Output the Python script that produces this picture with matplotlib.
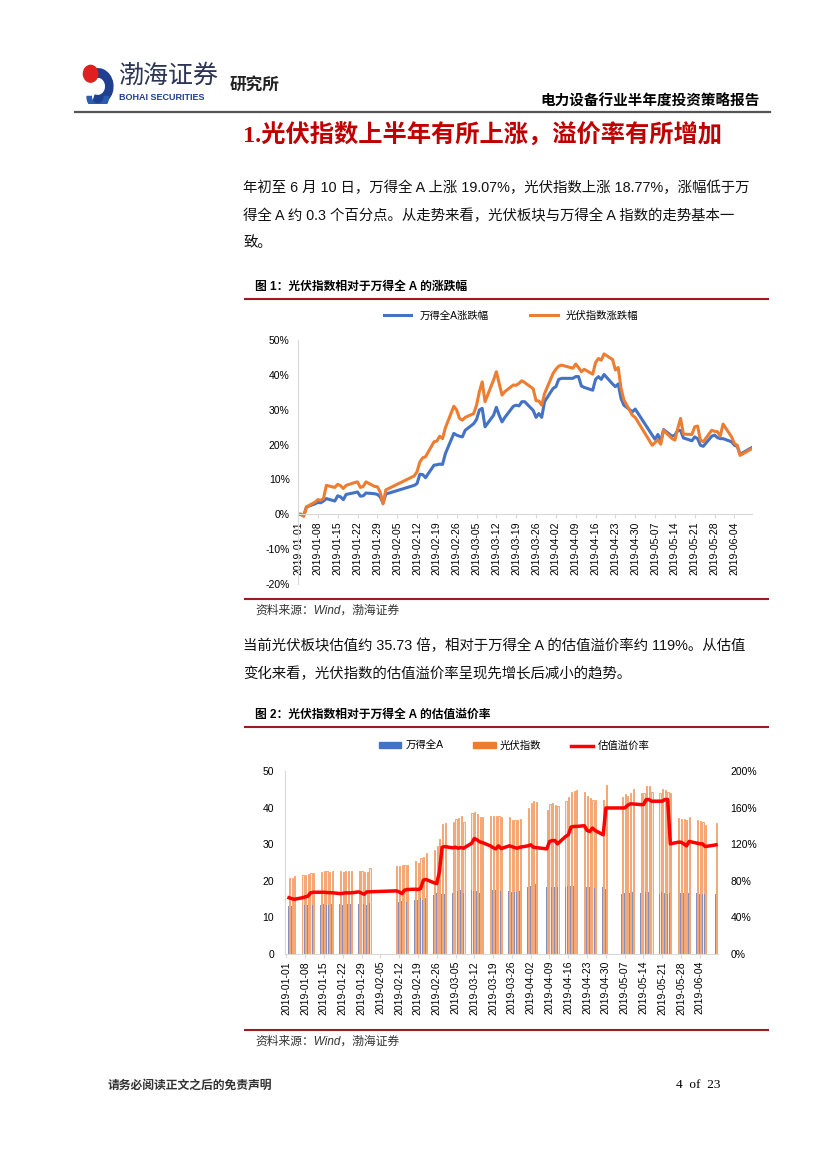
import matplotlib
matplotlib.use("Agg")
import matplotlib.pyplot as plt
import matplotlib.dates as mdates
from matplotlib.patches import Patch, Circle, Wedge
from matplotlib.lines import Line2D
import numpy as np
import pandas as pd

plt.rcParams['font.family'] = ['Liberation Sans', 'Noto Sans CJK SC', 'DejaVu Sans']
plt.rcParams['axes.unicode_minus'] = False

# trading days 2019-01-02 .. 2019-06-10 (holidays removed)
holidays = ['2019-02-04', '2019-02-05', '2019-02-06', '2019-02-07', '2019-02-08',
            '2019-04-05', '2019-05-01', '2019-05-02', '2019-05-03', '2019-06-07']
days = pd.bdate_range('2019-01-02', '2019-06-10')
days = days[~days.isin(pd.to_datetime(holidays))]

# fig 1: cumulative change (%)
wind_chg = [-0.1, -0.4, 2.1, 3.0, 3.4, 3.3, 3.8, 4.5, 3.8, 5.3, 5.0, 4.2, 5.7, 6.2, 6.4, 5.2, 5.3, 6.1, 5.9, 5.7, 5.0, 3.2,
            5.8, 8.3, 8.8, 11.5, 11.4, 10.5, 14.1, 14.2, 14.4, 14.3, 17.4, 23.2, 22.7, 22.4, 22.2,
            24.1, 26.0, 27.2, 29.9, 30.4, 25.1, 28.4, 30.7, 28.4, 26.5, 27.8, 31.0, 31.3, 31.1, 32.3, 32.3, 29.8, 27.8, 28.9, 27.8, 32.3,
            36.1, 36.6, 38.7, 39.0, 39.0, 39.5, 39.5, 36.8, 36.4, 35.6, 38.7, 39.5, 38.7, 40.1, 37.4, 36.6, 37.4, 33.2, 31.3, 29.4, 30.2,
            22.7, 21.5, 22.9, 20.8, 24.3, 22.4, 22.7, 24.1, 24.0, 21.9, 21.1, 22.2, 21.7, 19.8, 19.5, 22.4, 22.7, 22.0, 21.7, 21.7,
            20.8, 19.8, 19.5, 17.2, 19.07]
pv_chg = [0.1, -0.6, 2.1, 3.5, 4.2, 4.0, 4.5, 8.3, 7.7, 8.6, 8.2, 7.4, 8.3, 9.1, 9.3, 7.7, 8.0, 9.3, 8.0, 7.9, 6.4, 3.0,
          7.0, 11.0, 12.2, 15.0, 16.2, 16.5, 20.8, 21.0, 22.4, 21.7, 24.8, 31.0, 29.9, 27.5, 27.0,
          27.8, 28.9, 31.3, 35.2, 38.0, 32.3, 38.5, 40.9, 37.5, 34.2, 35.2, 37.1, 37.0, 37.6, 38.3, 37.8, 36.0, 32.6, 32.5, 31.3, 34.6,
          40.4, 41.6, 42.5, 42.8, 41.9, 43.1, 42.1, 40.9, 41.6, 40.2, 43.5, 44.7, 44.2, 46.0, 44.4, 41.4, 42.1, 36.1, 32.8, 28.4, 27.8,
          19.8, 20.6, 21.3, 20.1, 24.1, 21.7, 21.3, 24.6, 27.5, 23.0, 22.9, 25.1, 25.3, 21.3, 20.8, 24.1, 23.8, 23.7, 22.4, 25.9,
          22.2, 20.3, 19.8, 16.9, 18.77]

# fig 2: PE and premium
wind_pe = [13.0, 13.0, 13.3, 13.4, 13.4, 13.4, 13.3, 13.3, 13.4, 13.6, 13.5, 13.5, 13.6, 13.7, 13.5, 13.7, 13.7, 13.7, 13.6, 13.7, 13.6, 13.3,
           13.9, 14.2, 14.3, 14.6, 14.4, 14.3, 14.8, 14.7, 15.3, 14.7, 15.2, 16.0, 16.6, 16.6, 16.4,
           16.5, 16.8, 17.1, 17.3, 17.4, 16.7, 17.4, 17.2, 17.1, 16.8, 16.9, 17.3, 17.4, 17.5, 17.2, 17.2, 17.2, 16.9, 16.9, 17.0, 17.1,
           18.3, 18.7, 19.2, 19.2, 18.3, 18.6, 18.4, 18.2, 18.3, 18.3, 18.6, 18.6, 18.6, 18.7, 18.4, 18.4, 18.2, 17.7, 17.9, 18.2, 17.8,
           16.5, 16.8, 16.4, 16.6, 17.0, 16.8, 16.8, 17.0, 17.0, 16.6, 16.5, 16.9, 16.6, 16.4, 16.6, 16.6, 16.7, 16.8, 16.8, 16.7,
           16.6, 16.5, 16.4, 16.3, 16.3]
pv_pe = [20.9, 20.7, 21.3, 21.6, 21.7, 21.8, 22.2, 22.2, 22.4, 22.7, 22.6, 22.5, 22.7, 22.8, 22.5, 22.8, 22.8, 22.8, 22.8, 22.8, 22.5, 22.3,
         23.4, 24.0, 24.0, 24.2, 24.4, 24.4, 25.3, 25.0, 26.2, 26.6, 27.5, 28.5, 29.5, 31.5, 35.6,
         35.9, 36.2, 37.0, 37.2, 37.6, 36.0, 38.4, 38.8, 38.3, 37.3, 37.5, 37.8, 37.7, 37.6, 37.6, 37.5, 37.5, 36.6, 36.6, 36.6, 37.0,
         39.9, 41.3, 41.7, 41.6, 39.4, 41.1, 41.3, 40.8, 40.4, 41.7, 42.9, 44.3, 44.5, 44.8, 44.3, 43.3, 42.7, 42.0, 42.2, 42.0, 46.3,
         42.9, 43.6, 43.1, 43.9, 45.0, 44.0, 44.0, 45.9, 45.9, 44.3, 44.0, 45.0, 44.8, 44.2, 43.9, 37.2, 37.0, 36.9, 36.7, 37.4,
         36.7, 36.4, 36.0, 35.3, 35.73]
premium = [61.5, 60.5, 59.8, 61.5, 62.4, 63.1, 66.8, 67.5, 67.5, 67.5, 67.2, 67.0, 67.0, 66.0, 66.3, 66.8, 66.8, 66.8, 67.9, 66.5, 65.3, 67.9,
           68.0, 69.0, 67.9, 66.0, 69.7, 70.5, 70.8, 70.5, 71.5, 80.7, 81.5, 77.8, 77.0, 89.9, 116.7,
           117.4, 116.0, 116.7, 115.6, 116.3, 115.6, 121.0, 126.2, 124.8, 122.6, 121.8, 118.2, 116.3, 114.9, 118.2, 115.2, 118.2, 117.4, 116.3, 115.6, 116.7,
           118.2, 119.3, 116.7, 116.3, 114.9, 122.9, 124.0, 124.0, 120.4, 128.4, 130.3, 138.7, 139.4, 139.4, 140.2, 135.0, 134.0, 137.6, 135.0, 130.3, 159.6,
           159.6, 159.6, 162.2, 164.0, 164.0, 163.3, 163.3, 168.8, 168.8, 167.0, 167.0, 167.0, 168.8, 168.8, 120.4, 122.2, 122.2, 120.4, 118.2, 123.0,
           121.1, 120.4, 120.4, 117.4, 119.3]

BLUE = '#4472C4'
ORANGE = '#ED7D31'
DARKRED = '#9E1B1E'
W, H = 827, 1169


def fx(x):
    return x / W


def fy(y):
    return 1 - y / H


fig = plt.figure(figsize=(8.27, 11.69), dpi=100)

# ---- header ----
lax = fig.add_axes([fx(78), fy(104), fx(36), 42 / H])
lax.set_xlim(0, 1)
lax.set_ylim(0, 1)
lax.axis('off')
lax.add_patch(Wedge((0.55, 0.42), 0.42, -110, 130, width=0.2, color='#1f3f8f'))
lax.add_patch(Wedge((0.55, 0.18), 0.3, 180, 360, width=0.12, color='#2a5db0'))
lax.add_patch(Circle((0.35, 0.72), 0.2, color='#e02020'))

fig.text(fx(118), fy(76), '渤海证券', fontsize=18, color='#2c3553', va='center',
         family=['Noto Sans CJK SC'])
fig.text(fx(119), fy(97), 'BOHAI SECURITIES', fontsize=6.5, color='#1f3f8f', va='center',
         weight='bold')
fig.text(fx(230), fy(85), '研究所', fontsize=12, color='#222222', va='center', weight='bold',
         family=['Noto Sans CJK SC'])
fig.text(fx(760), fy(101), '电力设备行业半年度投资策略报告', fontsize=10.5, weight='bold',
         ha='right', va='center', family=['Noto Sans CJK SC'])
fig.add_artist(Line2D([fx(75), fx(770)], [fy(112), fy(112)], color='#555555', lw=1.6))

fig.text(fx(243), fy(136), '1.光伏指数上半年有所上涨，溢价率有所增加', fontsize=17.5, weight='bold',
         color='#C00000', va='center', family=['Liberation Serif', 'Noto Sans CJK SC'])

body = dict(fontsize=10.4, va='center', color='#111111')
fig.text(fx(243), fy(188), '年初至 6 月 10 日，万得全 A 上涨 19.07%，光伏指数上涨 18.77%，涨幅低于万', **body)
fig.text(fx(243), fy(216), '得全 A 约 0.3 个百分点。从走势来看，光伏板块与万得全 A 指数的走势基本一', **body)
fig.text(fx(243), fy(243), '致。', **body)

fig.text(fx(255), fy(287), '图 1：光伏指数相对于万得全 A 的涨跌幅', fontsize=8.5, weight='bold', va='center')
fig.add_artist(Line2D([fx(245), fx(768)], [fy(299), fy(299)], color=DARKRED, lw=1.5))

# ---- chart 1 ----
d1 = [pd.Timestamp('2019-01-01')] + list(days)
ax1 = fig.add_axes([fx(298), fy(584), fx(752) - fx(298), (584 - 340) / H])
ax1.plot(d1, [0] + wind_chg, color=BLUE, lw=2.2, label='万得全A涨跌幅')
ax1.plot(d1, [0] + pv_chg, color=ORANGE, lw=2.2, label='光伏指数涨跌幅')
ax1.set_ylim(-20, 50)
ax1.set_yticks(range(-20, 51, 10))
ax1.yaxis.set_major_formatter(matplotlib.ticker.FuncFormatter(lambda v, p: '%d%%' % v))
ax1.set_xlim(pd.Timestamp('2019-01-01'), pd.Timestamp('2019-06-10 05:00'))
ticks = pd.date_range('2019-01-01', '2019-06-04', freq='7D')
ax1.set_xticks(ticks)
ax1.xaxis.set_major_formatter(mdates.DateFormatter('%Y-%m-%d'))
ax1.spines['bottom'].set_position(('data', 0))
for s in ['top', 'right']:
    ax1.spines[s].set_visible(False)
ax1.spines['left'].set_color('#d9d9d9')
ax1.spines['bottom'].set_color('#d9d9d9')
ax1.tick_params(axis='x', rotation=90, labelsize=7.5, length=3, color='#d9d9d9', pad=2)
ax1.tick_params(axis='y', labelsize=7.5, length=0, pad=6)
ax1.legend(loc='lower center', bbox_to_anchor=(0.47, 1.04), ncol=2, frameon=False,
           fontsize=7.5, handlelength=2.6, columnspacing=4)

fig.add_artist(Line2D([fx(245), fx(768)], [fy(599), fy(599)], color=DARKRED, lw=1.5))
fig.text(fx(255), fy(611), '资料来源：Wind，渤海证券', fontsize=8.5, style='italic', va='center',
         color='#333333')

fig.text(fx(243), fy(646), '当前光伏板块估值约 35.73 倍，相对于万得全 A 的估值溢价率约 119%。从估值', **body)
fig.text(fx(243), fy(674), '变化来看，光伏指数的估值溢价率呈现先增长后减小的趋势。', **body)

fig.text(fx(255), fy(715), '图 2：光伏指数相对于万得全 A 的估值溢价率', fontsize=8.5, weight='bold', va='center')
fig.add_artist(Line2D([fx(245), fx(768)], [fy(727), fy(727)], color=DARKRED, lw=1.5))

# ---- chart 2 ----
ax2 = fig.add_axes([fx(285), fy(954), fx(718) - fx(285), (954 - 771) / H])
off = pd.Timedelta(hours=4)
ax2.bar(days + off, pv_pe, width=0.45, color='#fce9dc', edgecolor=ORANGE, lw=0.45)
ax2.bar(days - off, wind_pe, width=0.3, color='#8a8fb8', lw=0)
ax2.set_ylim(0, 50)
ax2.set_yticks(range(0, 51, 10))
ax2.set_xlim(pd.Timestamp('2019-01-01') - pd.Timedelta(hours=12), pd.Timestamp('2019-06-10 18:00'))
ax2.set_xticks(ticks)
ax2.xaxis.set_major_formatter(mdates.DateFormatter('%Y-%m-%d'))
for s in ['top', 'right']:
    ax2.spines[s].set_visible(False)
ax2.spines['left'].set_color('#d9d9d9')
ax2.spines['bottom'].set_color('#d9d9d9')
ax2.tick_params(axis='x', rotation=90, labelsize=7.5, length=3, color='#d9d9d9', pad=2)
ax2.tick_params(axis='y', labelsize=7.5, length=0, pad=8)

ax3 = ax2.twinx()
ax3.plot(days, premium, color='#FF0000', lw=2.5)
ax3.set_ylim(0, 200)
ax3.set_yticks(range(0, 201, 40))
ax3.yaxis.set_major_formatter(matplotlib.ticker.FuncFormatter(lambda v, p: '%d%%' % v))
for s in ['top', 'right', 'left', 'bottom']:
    ax3.spines[s].set_visible(False)
ax3.tick_params(axis='y', labelsize=7.5, length=0, pad=9)

handles = [Patch(color=BLUE), Patch(color=ORANGE), Line2D([], [], color='#FF0000', lw=2.5)]
fig.legend(handles, ['万得全A', '光伏指数', '估值溢价率'], loc='center', bbox_to_anchor=(fx(514), fy(746)),
           ncol=3, frameon=False, fontsize=7.5, handlelength=2.2, handleheight=0.5,
           handletextpad=0.4, columnspacing=2.8)

fig.add_artist(Line2D([fx(245), fx(768)], [fy(1030), fy(1030)], color=DARKRED, lw=1.5))
fig.text(fx(255), fy(1042), '资料来源：Wind，渤海证券', fontsize=8.5, style='italic', va='center',
         color='#333333')

# ---- footer ----
fig.text(fx(108), fy(1085), '请务必阅读正文之后的免责声明', fontsize=8.5, weight='bold', va='center',
         color='#333333', family=['Noto Sans CJK SC'])
fig.text(fx(720), fy(1085), '4  of  23', fontsize=9.5, ha='right', va='center',
         family=['Liberation Serif'])

fig.savefig('out.png', dpi=100)
